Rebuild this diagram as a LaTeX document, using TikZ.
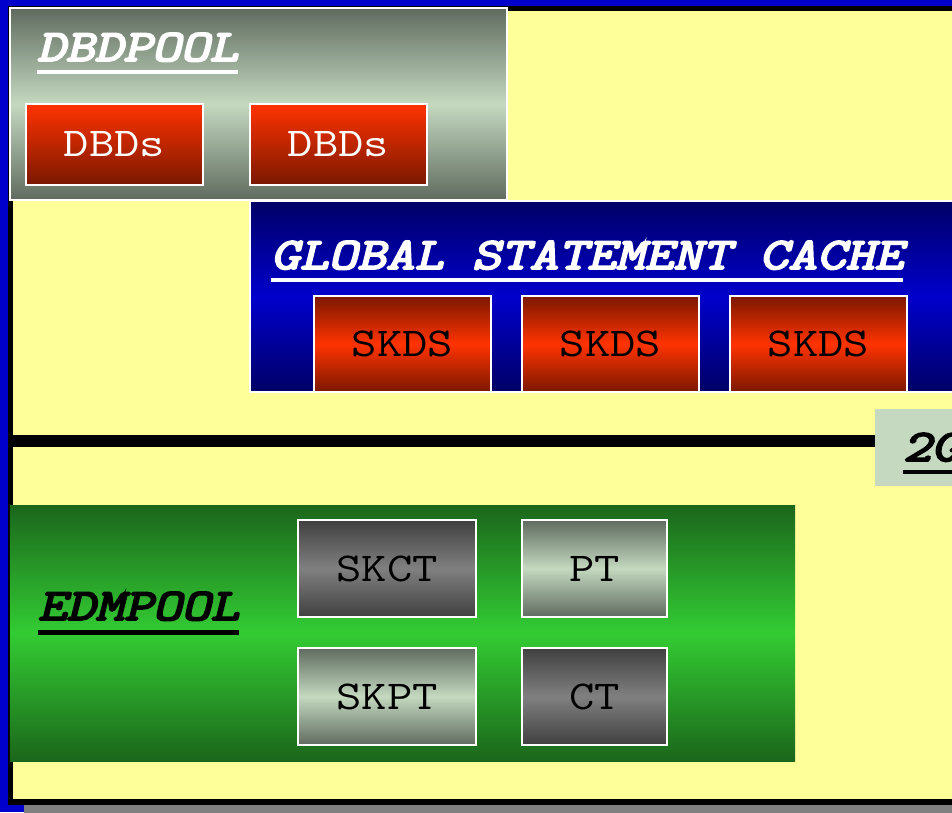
\documentclass[tikz,border=0pt]{standalone}
\usepackage{fontspec}
\usepackage{graphicx}
\newfontfamily\labelfont{Latin Modern Mono}
\newfontfamily\headfont[FakeBold=4, FakeSlant=0.2]{Latin Modern Mono}
\newcommand{\boxlabel}[1]{\scalebox{1.2}[1]{\labelfont\fontsize{41}{45}\selectfont #1}}
\newcommand{\headline}[1]{\scalebox{1.24}[1]{\headfont\fontsize{45}{50}\selectfont #1}}
\definecolor{bgblue}{HTML}{0000CC}
\definecolor{paper}{HTML}{FFFF99}
\definecolor{shadowgray}{HTML}{808080}
\definecolor{sage}{HTML}{C4D9C0}
\definecolor{sagedark}{HTML}{5F6B5F}
\definecolor{navy}{HTML}{000066}
\definecolor{brightred}{HTML}{FF3300}
\definecolor{darkred}{HTML}{7A1800}
\definecolor{grassdark}{HTML}{1B661B}
\definecolor{grass}{HTML}{33CC33}
\definecolor{graydark}{HTML}{404040}
\definecolor{graymid}{HTML}{808080}
\tikzset{
  panel/.style={anchor=north west, inner sep=0pt, outer sep=0pt},
  framed/.style={draw=white, line width=1.5pt},
  sageshade/.style={shade, top color=sagedark, bottom color=sagedark, middle color=sage},
  redfade/.style={shade, top color=brightred, bottom color=darkred},
  redglow/.style={shade, top color=darkred, bottom color=darkred, middle color=brightred},
  blueglow/.style={shade, top color=navy, bottom color=navy, middle color=bgblue},
  greenglow/.style={shade, top color=grassdark, bottom color=grassdark, middle color=grass},
  grayglow/.style={shade, top color=graydark, bottom color=graydark, middle color=graymid},
  title/.style={anchor=base west, inner sep=0pt, outer sep=0pt},
  rule/.style={line width=4.5pt}
}
\begin{document}
\begin{tikzpicture}[x=1pt, y=-1pt]
\useasboundingbox (0,0) rectangle (952,812);
\clip (0,0) rectangle (952,812);

% backdrop, shadow and the framed sheet
\fill[bgblue] (0,0) rectangle (952,812);
\fill[shadowgray] (24,18) rectangle (980,830);
\fill[black] (8,6) rectangle (980,805);
\fill[paper] (13,11) rectangle (980,799);

% DBDPOOL
\node[panel, framed, sageshade, minimum width=497pt, minimum height=192pt] (dbdpool) at (10,8) {};
\node[title, text=white] (dbdtitle) at (37,61) {\headline{DBDPOOL}};
\draw[rule, white] ([yshift=-11pt]dbdtitle.base west) -- ([yshift=-11pt]dbdtitle.base east);
\node[panel, framed, redfade, minimum width=177pt, minimum height=81pt, text=white] (dbd1) at (26,104) {\boxlabel{DBDs}};
\node[panel, framed, redfade, minimum width=177pt, minimum height=81pt, text=white] (dbd2) at (250,104) {\boxlabel{DBDs}};

% GLOBAL STATEMENT CACHE
\node[panel, framed, blueglow, minimum width=730pt, minimum height=191pt] (gsc) at (250,201) {};
\node[title, text=white] (gsctitle) at (271,269) {\headline{GLOBAL STATEMENT CACHE}};
\draw[rule, white] ([yshift=-11pt]gsctitle.base west) -- ([yshift=-11pt]gsctitle.base east);
\node[panel, framed, redglow, minimum width=177pt, minimum height=96pt] (skds1) at (314,296) {\boxlabel{SKDS}};
\node[panel, framed, redglow, minimum width=177pt, minimum height=96pt] (skds2) at (522,296) {\boxlabel{SKDS}};
\node[panel, framed, redglow, minimum width=177pt, minimum height=96pt] (skds3) at (730,296) {\boxlabel{SKDS}};

% 2G divider and its tag
\node[panel, fill=sage, minimum width=110pt, minimum height=77pt] (tag) at (875,409) {};
\coordinate (divleft) at (8,441);
\draw[line width=12pt] (divleft) -- (divleft -| tag.west);
\node[title] (tagtitle) at (903,461) {\headline{2G}};
\draw[rule] ([yshift=-11pt]tagtitle.base west) -- ([yshift=-11pt]tagtitle.base east);

% EDMPOOL
\node[panel, greenglow, minimum width=785pt, minimum height=256pt] (edmpool) at (10,505) {};
\node[title] (edmtitle) at (38,620) {\headline{EDMPOOL}};
\draw[rule] ([yshift=-12.5pt]edmtitle.base west) -- ([yshift=-12.5pt]edmtitle.base east);
\node[panel, framed, grayglow, minimum width=178pt, minimum height=97pt] (skct) at (298,520) {\boxlabel{SKCT}};
\node[panel, framed, sageshade, minimum width=145pt, minimum height=97pt] (pt) at (522,520) {\boxlabel{PT}};
\node[panel, framed, sageshade, minimum width=178pt, minimum height=97pt] (skpt) at (298,648) {\boxlabel{SKPT}};
\node[panel, framed, grayglow, minimum width=145pt, minimum height=97pt] (ct) at (522,648) {\boxlabel{CT}};
\end{tikzpicture}
\end{document}
